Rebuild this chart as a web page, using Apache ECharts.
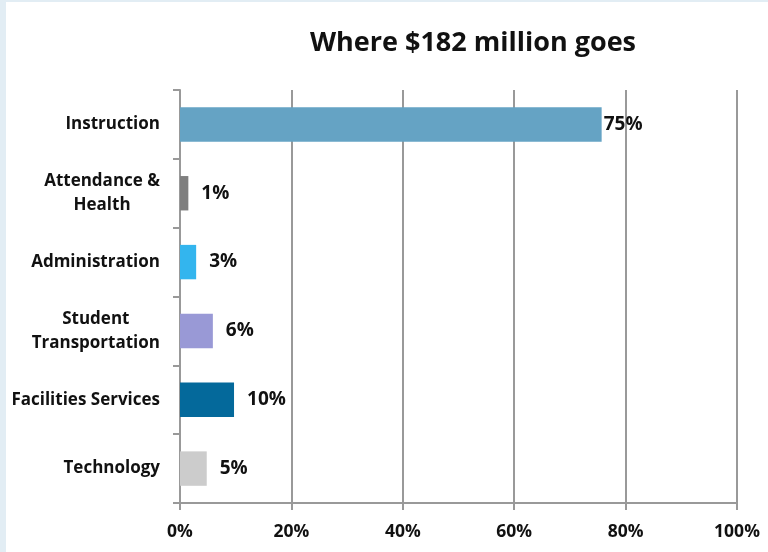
<!DOCTYPE html>
<html>
<head>
<meta charset="utf-8">
<script src="https://cdn.jsdelivr.net/npm/echarts@6/dist/echarts.min.js"></script>
<style>
html,body{margin:0;padding:0;background:#e2edf4;}
#c{position:absolute;left:6px;top:2px;width:762px;height:550px;background:#fff;}
</style>
</head>
<body>
<div id="c"></div>
<script>
const categories = ["Instruction", "Attendance &\nHealth", "Administration", "Student\nTransportation", "Facilities Services", "Technology"];
const values = [75.7, 1.5, 2.9, 5.9, 9.7, 4.8];
const valueLabels = ["75%", "1%", "3%", "6%", "10%", "5%"];
const barColors = ["#65a3c4", "#7f7f7f", "#33b5ee", "#9999d6", "#04699b", "#cccccc"];
const xTicks = [0, 20, 40, 60, 80, 100];

const chart = echarts.init(document.getElementById('c'));
const FONT = '"Open Sans"';
chart.setOption({
  animation: false,
  title: {
    text: 'Where $182 million goes',
    left: 462, top: 23, textAlign: 'center',
    textStyle: {fontFamily: FONT, fontWeight: 'bold', fontSize: 27, color: '#111'}
  },
  grid: {left: 174, right: 31, top: 88, bottom: 49},
  xAxis: {
    type: 'value', min: xTicks[0], max: xTicks[xTicks.length - 1], interval: 20,
    axisLine: {show: true, lineStyle: {color: '#999', width: 2}},
    axisTick: {show: true, length: 7, lineStyle: {color: '#999', width: 2}},
    splitLine: {show: true, lineStyle: {color: '#999', width: 2}},
    axisLabel: {formatter: '{value}%', margin: 20, fontFamily: FONT, fontWeight: 'bold', fontSize: 17.5, color: '#111'}
  },
  yAxis: {
    type: 'category', data: categories, inverse: true,
    axisLine: {show: true, lineStyle: {color: '#999', width: 2}},
    axisTick: {show: true, length: 7, lineStyle: {color: '#999', width: 2}},
    axisLabel: {
      margin: 20, fontFamily: FONT, fontWeight: 'bold', fontSize: 17, color: '#111', lineHeight: 24,
      formatter: v => v.split('\n').map(s => '{a|' + s + '}').join('\n'),
      rich: {a: {align: 'center', fontFamily: FONT, fontWeight: 'bold', fontSize: 17, color: '#111', lineHeight: 24}}
    }
  },
  series: [{
    type: 'bar',
    barCategoryGap: '50%',
    data: values.map((v, i) => ({
      value: v,
      itemStyle: {color: barColors[i]},
      label: {distance: i === 0 ? 2 : 13}
    })),
    label: {
      show: true, position: 'right',
      formatter: p => valueLabels[p.dataIndex],
      fontFamily: FONT, fontWeight: 'bold', fontSize: 19, color: '#111'
    }
  }]
});
</script>
</body>
</html>
